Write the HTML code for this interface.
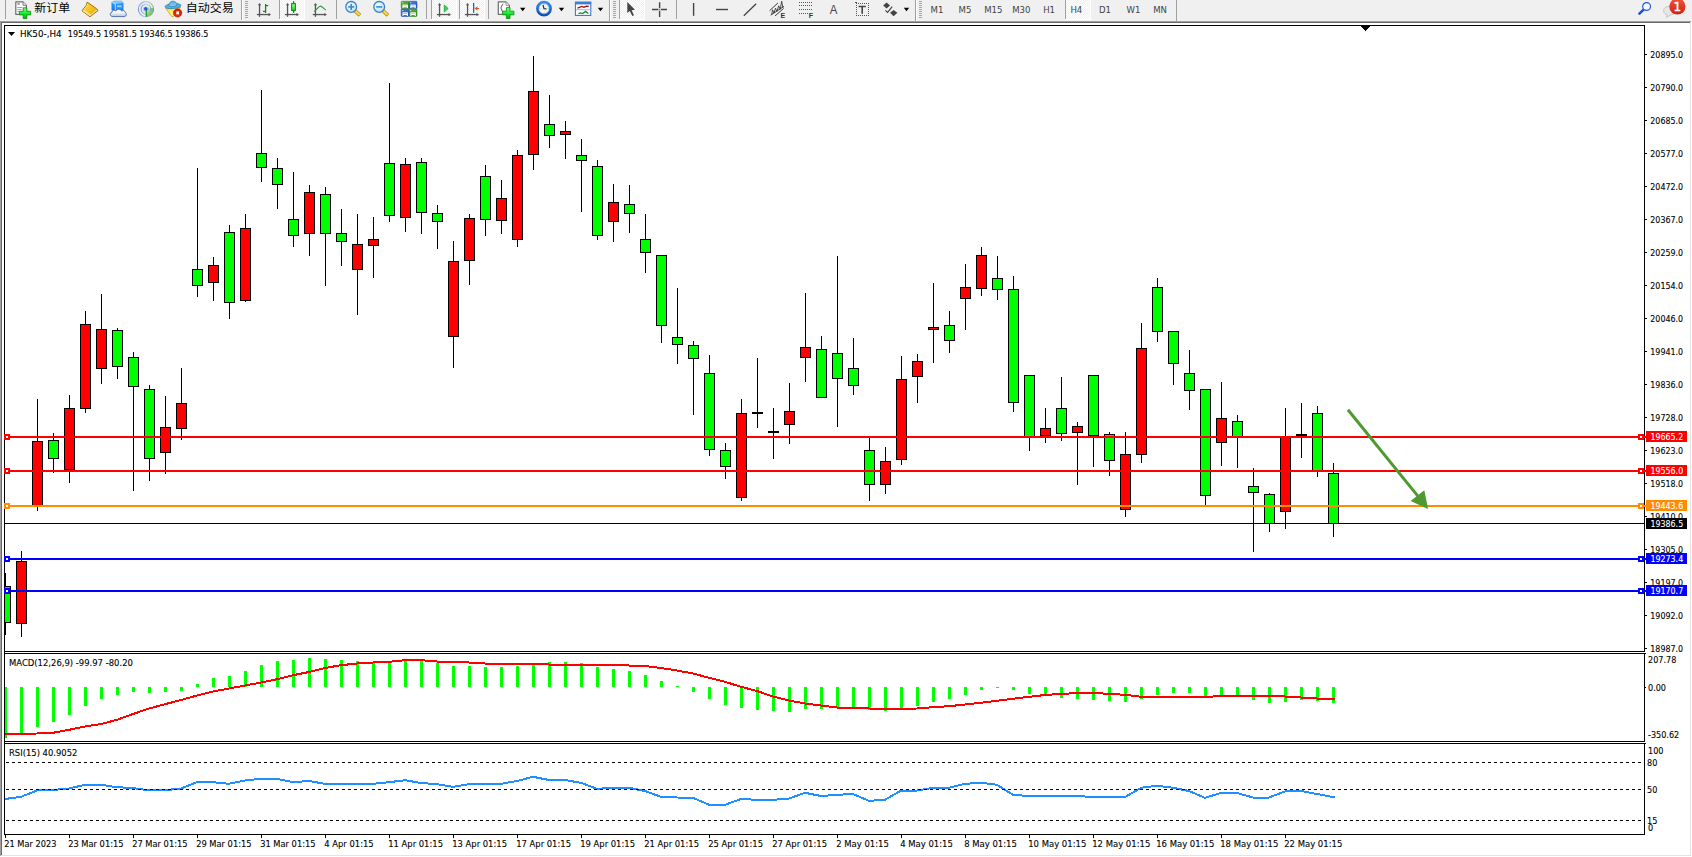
<!DOCTYPE html>
<html lang="zh"><head><meta charset="utf-8"><title>HK50-,H4</title>
<style>
html,body{margin:0;padding:0;background:#fff;overflow:hidden}
svg{display:block}
text{font-family:"DejaVu Sans Condensed","Liberation Sans",sans-serif;font-size:9px;fill:#000;stroke:#000;stroke-width:.1px}
.cj{font-family:"Liberation Sans","Noto Sans CJK SC","WenQuanYi Zen Hei",sans-serif;font-size:12px;fill:#000;stroke:none}
.tf{font-family:"DejaVu Sans Condensed","Liberation Sans",sans-serif;font-size:9.5px;fill:#444;stroke:none}
.w{fill:#fff;stroke:#fff}
</style></head><body>

<svg width="1692" height="857" viewBox="0 0 1692 857">

<g shape-rendering="crispEdges">
<rect x="0" y="0" width="1692" height="857" fill="#fff"/>
<rect x="0" y="0" width="1692" height="21" fill="#f0f0f0"/>
<rect x="0" y="21" width="1692" height="1" fill="#a0a0a0"/>
<rect x="0" y="22" width="1692" height="1" fill="#696969"/>
<rect x="0" y="21" width="1" height="836" fill="#a0a0a0"/>
<rect x="1" y="22" width="1" height="835" fill="#696969"/>
<rect x="1" y="855" width="1691" height="1" fill="#e3e3e3"/>
<rect x="1690" y="22" width="1" height="834" fill="#e3e3e3"/>
<rect x="0" y="856" width="1692" height="1" fill="#fff"/>
<rect x="1691" y="21" width="1" height="836" fill="#fff"/>
<rect x="4" y="25" width="1641" height="1" fill="#000"/>
<rect x="4" y="25" width="1" height="810" fill="#000"/>
<rect x="1644" y="25" width="1" height="810" fill="#000"/>
<rect x="4" y="651" width="1641" height="1" fill="#000"/>
<rect x="4" y="653" width="1641" height="1" fill="#000"/>
<rect x="4" y="741" width="1641" height="1" fill="#000"/>
<rect x="4" y="743" width="1641" height="1" fill="#000"/>
<rect x="4" y="834" width="1641" height="1" fill="#000"/>
<rect x="1645" y="54" width="2" height="1" fill="#000"/>
<rect x="1645" y="87" width="2" height="1" fill="#000"/>
<rect x="1645" y="120" width="2" height="1" fill="#000"/>
<rect x="1645" y="153" width="2" height="1" fill="#000"/>
<rect x="1645" y="186" width="2" height="1" fill="#000"/>
<rect x="1645" y="219" width="2" height="1" fill="#000"/>
<rect x="1645" y="252" width="2" height="1" fill="#000"/>
<rect x="1645" y="285" width="2" height="1" fill="#000"/>
<rect x="1645" y="318" width="2" height="1" fill="#000"/>
<rect x="1645" y="351" width="2" height="1" fill="#000"/>
<rect x="1645" y="384" width="2" height="1" fill="#000"/>
<rect x="1645" y="417" width="2" height="1" fill="#000"/>
<rect x="1645" y="450" width="2" height="1" fill="#000"/>
<rect x="1645" y="483" width="2" height="1" fill="#000"/>
<rect x="1645" y="516" width="2" height="1" fill="#000"/>
<rect x="1645" y="549" width="2" height="1" fill="#000"/>
<rect x="1645" y="582" width="2" height="1" fill="#000"/>
<rect x="1645" y="615" width="2" height="1" fill="#000"/>
<rect x="1645" y="648" width="2" height="1" fill="#000"/>
<rect x="1645" y="687" width="1" height="1" fill="#000"/>
<rect x="1644" y="652" width="1" height="1" fill="#fff"/>
<rect x="1644" y="742" width="1" height="1" fill="#fff"/>
<rect x="1645" y="653" width="1" height="1" fill="#000"/>
<rect x="1645" y="743" width="1" height="1" fill="#000"/>
<rect x="5" y="835" width="1" height="3" fill="#000"/>
<rect x="69" y="835" width="1" height="3" fill="#000"/>
<rect x="133" y="835" width="1" height="3" fill="#000"/>
<rect x="197" y="835" width="1" height="3" fill="#000"/>
<rect x="261" y="835" width="1" height="3" fill="#000"/>
<rect x="325" y="835" width="1" height="3" fill="#000"/>
<rect x="389" y="835" width="1" height="3" fill="#000"/>
<rect x="453" y="835" width="1" height="3" fill="#000"/>
<rect x="517" y="835" width="1" height="3" fill="#000"/>
<rect x="581" y="835" width="1" height="3" fill="#000"/>
<rect x="645" y="835" width="1" height="3" fill="#000"/>
<rect x="709" y="835" width="1" height="3" fill="#000"/>
<rect x="773" y="835" width="1" height="3" fill="#000"/>
<rect x="837" y="835" width="1" height="3" fill="#000"/>
<rect x="901" y="835" width="1" height="3" fill="#000"/>
<rect x="965" y="835" width="1" height="3" fill="#000"/>
<rect x="1029" y="835" width="1" height="3" fill="#000"/>
<rect x="1093" y="835" width="1" height="3" fill="#000"/>
<rect x="1157" y="835" width="1" height="3" fill="#000"/>
<rect x="1221" y="835" width="1" height="3" fill="#000"/>
<rect x="1285" y="835" width="1" height="3" fill="#000"/>
</g>

<g shape-rendering="crispEdges">
<rect x="5" y="573" width="1" height="62" fill="#000"/>
<rect x="4" y="586" width="7" height="37" fill="#000"/>
<rect x="5" y="587" width="5" height="35" fill="#00ff00"/>
<rect x="21" y="551" width="1" height="86" fill="#000"/>
<rect x="16" y="561" width="11" height="63" fill="#000"/>
<rect x="17" y="562" width="9" height="61" fill="#ff0000"/>
<rect x="37" y="399" width="1" height="112" fill="#000"/>
<rect x="32" y="441" width="11" height="65" fill="#000"/>
<rect x="33" y="442" width="9" height="63" fill="#ff0000"/>
<rect x="53" y="433" width="1" height="40" fill="#000"/>
<rect x="48" y="440" width="11" height="19" fill="#000"/>
<rect x="49" y="441" width="9" height="17" fill="#00ff00"/>
<rect x="69" y="395" width="1" height="88" fill="#000"/>
<rect x="64" y="408" width="11" height="62" fill="#000"/>
<rect x="65" y="409" width="9" height="60" fill="#ff0000"/>
<rect x="85" y="311" width="1" height="102" fill="#000"/>
<rect x="80" y="324" width="11" height="85" fill="#000"/>
<rect x="81" y="325" width="9" height="83" fill="#ff0000"/>
<rect x="101" y="294" width="1" height="90" fill="#000"/>
<rect x="96" y="329" width="11" height="40" fill="#000"/>
<rect x="97" y="330" width="9" height="38" fill="#ff0000"/>
<rect x="117" y="328" width="1" height="51" fill="#000"/>
<rect x="112" y="330" width="11" height="37" fill="#000"/>
<rect x="113" y="331" width="9" height="35" fill="#00ff00"/>
<rect x="133" y="352" width="1" height="139" fill="#000"/>
<rect x="128" y="357" width="11" height="30" fill="#000"/>
<rect x="129" y="358" width="9" height="28" fill="#00ff00"/>
<rect x="149" y="385" width="1" height="96" fill="#000"/>
<rect x="144" y="389" width="11" height="70" fill="#000"/>
<rect x="145" y="390" width="9" height="68" fill="#00ff00"/>
<rect x="165" y="396" width="1" height="78" fill="#000"/>
<rect x="160" y="427" width="11" height="26" fill="#000"/>
<rect x="161" y="428" width="9" height="24" fill="#ff0000"/>
<rect x="181" y="368" width="1" height="72" fill="#000"/>
<rect x="176" y="403" width="11" height="26" fill="#000"/>
<rect x="177" y="404" width="9" height="24" fill="#ff0000"/>
<rect x="197" y="168" width="1" height="129" fill="#000"/>
<rect x="192" y="269" width="11" height="17" fill="#000"/>
<rect x="193" y="270" width="9" height="15" fill="#00ff00"/>
<rect x="213" y="257" width="1" height="44" fill="#000"/>
<rect x="208" y="265" width="11" height="18" fill="#000"/>
<rect x="209" y="266" width="9" height="16" fill="#ff0000"/>
<rect x="229" y="225" width="1" height="94" fill="#000"/>
<rect x="224" y="232" width="11" height="71" fill="#000"/>
<rect x="225" y="233" width="9" height="69" fill="#00ff00"/>
<rect x="245" y="214" width="1" height="88" fill="#000"/>
<rect x="240" y="228" width="11" height="73" fill="#000"/>
<rect x="241" y="229" width="9" height="71" fill="#ff0000"/>
<rect x="261" y="90" width="1" height="92" fill="#000"/>
<rect x="256" y="153" width="11" height="15" fill="#000"/>
<rect x="257" y="154" width="9" height="13" fill="#00ff00"/>
<rect x="277" y="158" width="1" height="51" fill="#000"/>
<rect x="272" y="168" width="11" height="17" fill="#000"/>
<rect x="273" y="169" width="9" height="15" fill="#00ff00"/>
<rect x="293" y="172" width="1" height="75" fill="#000"/>
<rect x="288" y="219" width="11" height="17" fill="#000"/>
<rect x="289" y="220" width="9" height="15" fill="#00ff00"/>
<rect x="309" y="185" width="1" height="71" fill="#000"/>
<rect x="304" y="192" width="11" height="42" fill="#000"/>
<rect x="305" y="193" width="9" height="40" fill="#ff0000"/>
<rect x="325" y="187" width="1" height="99" fill="#000"/>
<rect x="320" y="194" width="11" height="40" fill="#000"/>
<rect x="321" y="195" width="9" height="38" fill="#00ff00"/>
<rect x="341" y="209" width="1" height="57" fill="#000"/>
<rect x="336" y="233" width="11" height="9" fill="#000"/>
<rect x="337" y="234" width="9" height="7" fill="#00ff00"/>
<rect x="357" y="214" width="1" height="101" fill="#000"/>
<rect x="352" y="244" width="11" height="26" fill="#000"/>
<rect x="353" y="245" width="9" height="24" fill="#ff0000"/>
<rect x="373" y="217" width="1" height="61" fill="#000"/>
<rect x="368" y="239" width="11" height="7" fill="#000"/>
<rect x="369" y="240" width="9" height="5" fill="#ff0000"/>
<rect x="389" y="83" width="1" height="139" fill="#000"/>
<rect x="384" y="163" width="11" height="53" fill="#000"/>
<rect x="385" y="164" width="9" height="51" fill="#00ff00"/>
<rect x="405" y="158" width="1" height="74" fill="#000"/>
<rect x="400" y="164" width="11" height="54" fill="#000"/>
<rect x="401" y="165" width="9" height="52" fill="#ff0000"/>
<rect x="421" y="158" width="1" height="76" fill="#000"/>
<rect x="416" y="162" width="11" height="51" fill="#000"/>
<rect x="417" y="163" width="9" height="49" fill="#00ff00"/>
<rect x="437" y="205" width="1" height="44" fill="#000"/>
<rect x="432" y="213" width="11" height="9" fill="#000"/>
<rect x="433" y="214" width="9" height="7" fill="#00ff00"/>
<rect x="453" y="241" width="1" height="127" fill="#000"/>
<rect x="448" y="261" width="11" height="76" fill="#000"/>
<rect x="449" y="262" width="9" height="74" fill="#ff0000"/>
<rect x="469" y="214" width="1" height="71" fill="#000"/>
<rect x="464" y="218" width="11" height="43" fill="#000"/>
<rect x="465" y="219" width="9" height="41" fill="#ff0000"/>
<rect x="485" y="165" width="1" height="71" fill="#000"/>
<rect x="480" y="176" width="11" height="44" fill="#000"/>
<rect x="481" y="177" width="9" height="42" fill="#00ff00"/>
<rect x="501" y="180" width="1" height="54" fill="#000"/>
<rect x="496" y="198" width="11" height="23" fill="#000"/>
<rect x="497" y="199" width="9" height="21" fill="#ff0000"/>
<rect x="517" y="150" width="1" height="97" fill="#000"/>
<rect x="512" y="155" width="11" height="85" fill="#000"/>
<rect x="513" y="156" width="9" height="83" fill="#ff0000"/>
<rect x="533" y="56" width="1" height="114" fill="#000"/>
<rect x="528" y="91" width="11" height="64" fill="#000"/>
<rect x="529" y="92" width="9" height="62" fill="#ff0000"/>
<rect x="549" y="95" width="1" height="53" fill="#000"/>
<rect x="544" y="124" width="11" height="12" fill="#000"/>
<rect x="545" y="125" width="9" height="10" fill="#00ff00"/>
<rect x="565" y="121" width="1" height="38" fill="#000"/>
<rect x="560" y="131" width="11" height="4" fill="#000"/>
<rect x="561" y="132" width="9" height="2" fill="#ff0000"/>
<rect x="581" y="139" width="1" height="73" fill="#000"/>
<rect x="576" y="155" width="11" height="6" fill="#000"/>
<rect x="577" y="156" width="9" height="4" fill="#00ff00"/>
<rect x="597" y="160" width="1" height="80" fill="#000"/>
<rect x="592" y="166" width="11" height="70" fill="#000"/>
<rect x="593" y="167" width="9" height="68" fill="#00ff00"/>
<rect x="613" y="184" width="1" height="58" fill="#000"/>
<rect x="608" y="202" width="11" height="20" fill="#000"/>
<rect x="609" y="203" width="9" height="18" fill="#ff0000"/>
<rect x="629" y="185" width="1" height="48" fill="#000"/>
<rect x="624" y="204" width="11" height="10" fill="#000"/>
<rect x="625" y="205" width="9" height="8" fill="#00ff00"/>
<rect x="645" y="214" width="1" height="59" fill="#000"/>
<rect x="640" y="239" width="11" height="14" fill="#000"/>
<rect x="641" y="240" width="9" height="12" fill="#00ff00"/>
<rect x="661" y="255" width="1" height="88" fill="#000"/>
<rect x="656" y="255" width="11" height="71" fill="#000"/>
<rect x="657" y="256" width="9" height="69" fill="#00ff00"/>
<rect x="677" y="288" width="1" height="76" fill="#000"/>
<rect x="672" y="337" width="11" height="8" fill="#000"/>
<rect x="673" y="338" width="9" height="6" fill="#00ff00"/>
<rect x="693" y="341" width="1" height="74" fill="#000"/>
<rect x="688" y="345" width="11" height="14" fill="#000"/>
<rect x="689" y="346" width="9" height="12" fill="#00ff00"/>
<rect x="709" y="355" width="1" height="101" fill="#000"/>
<rect x="704" y="373" width="11" height="77" fill="#000"/>
<rect x="705" y="374" width="9" height="75" fill="#00ff00"/>
<rect x="725" y="443" width="1" height="36" fill="#000"/>
<rect x="720" y="450" width="11" height="17" fill="#000"/>
<rect x="721" y="451" width="9" height="15" fill="#00ff00"/>
<rect x="741" y="399" width="1" height="102" fill="#000"/>
<rect x="736" y="413" width="11" height="85" fill="#000"/>
<rect x="737" y="414" width="9" height="83" fill="#ff0000"/>
<rect x="757" y="358" width="1" height="70" fill="#000"/>
<rect x="752" y="412" width="11" height="2" fill="#000"/>
<rect x="773" y="408" width="1" height="51" fill="#000"/>
<rect x="768" y="431" width="11" height="2" fill="#000"/>
<rect x="789" y="383" width="1" height="61" fill="#000"/>
<rect x="784" y="411" width="11" height="14" fill="#000"/>
<rect x="785" y="412" width="9" height="12" fill="#ff0000"/>
<rect x="805" y="293" width="1" height="89" fill="#000"/>
<rect x="800" y="347" width="11" height="11" fill="#000"/>
<rect x="801" y="348" width="9" height="9" fill="#ff0000"/>
<rect x="821" y="336" width="1" height="62" fill="#000"/>
<rect x="816" y="349" width="11" height="49" fill="#000"/>
<rect x="817" y="350" width="9" height="47" fill="#00ff00"/>
<rect x="837" y="256" width="1" height="171" fill="#000"/>
<rect x="832" y="353" width="11" height="26" fill="#000"/>
<rect x="833" y="354" width="9" height="24" fill="#00ff00"/>
<rect x="853" y="338" width="1" height="57" fill="#000"/>
<rect x="848" y="368" width="11" height="18" fill="#000"/>
<rect x="849" y="369" width="9" height="16" fill="#00ff00"/>
<rect x="869" y="438" width="1" height="63" fill="#000"/>
<rect x="864" y="450" width="11" height="35" fill="#000"/>
<rect x="865" y="451" width="9" height="33" fill="#00ff00"/>
<rect x="885" y="447" width="1" height="47" fill="#000"/>
<rect x="880" y="461" width="11" height="24" fill="#000"/>
<rect x="881" y="462" width="9" height="22" fill="#ff0000"/>
<rect x="901" y="356" width="1" height="109" fill="#000"/>
<rect x="896" y="379" width="11" height="81" fill="#000"/>
<rect x="897" y="380" width="9" height="79" fill="#ff0000"/>
<rect x="917" y="354" width="1" height="49" fill="#000"/>
<rect x="912" y="361" width="11" height="16" fill="#000"/>
<rect x="913" y="362" width="9" height="14" fill="#ff0000"/>
<rect x="933" y="283" width="1" height="80" fill="#000"/>
<rect x="928" y="327" width="11" height="3" fill="#000"/>
<rect x="929" y="328" width="9" height="1" fill="#ff0000"/>
<rect x="949" y="311" width="1" height="42" fill="#000"/>
<rect x="944" y="325" width="11" height="16" fill="#000"/>
<rect x="945" y="326" width="9" height="14" fill="#00ff00"/>
<rect x="965" y="264" width="1" height="66" fill="#000"/>
<rect x="960" y="287" width="11" height="12" fill="#000"/>
<rect x="961" y="288" width="9" height="10" fill="#ff0000"/>
<rect x="981" y="247" width="1" height="49" fill="#000"/>
<rect x="976" y="255" width="11" height="34" fill="#000"/>
<rect x="977" y="256" width="9" height="32" fill="#ff0000"/>
<rect x="997" y="256" width="1" height="44" fill="#000"/>
<rect x="992" y="278" width="11" height="12" fill="#000"/>
<rect x="993" y="279" width="9" height="10" fill="#00ff00"/>
<rect x="1013" y="276" width="1" height="136" fill="#000"/>
<rect x="1008" y="289" width="11" height="114" fill="#000"/>
<rect x="1009" y="290" width="9" height="112" fill="#00ff00"/>
<rect x="1029" y="375" width="1" height="76" fill="#000"/>
<rect x="1024" y="375" width="11" height="63" fill="#000"/>
<rect x="1025" y="376" width="9" height="61" fill="#00ff00"/>
<rect x="1045" y="408" width="1" height="35" fill="#000"/>
<rect x="1040" y="428" width="11" height="8" fill="#000"/>
<rect x="1041" y="429" width="9" height="6" fill="#ff0000"/>
<rect x="1061" y="377" width="1" height="64" fill="#000"/>
<rect x="1056" y="408" width="11" height="26" fill="#000"/>
<rect x="1057" y="409" width="9" height="24" fill="#00ff00"/>
<rect x="1077" y="422" width="1" height="63" fill="#000"/>
<rect x="1072" y="426" width="11" height="7" fill="#000"/>
<rect x="1073" y="427" width="9" height="5" fill="#ff0000"/>
<rect x="1093" y="375" width="1" height="92" fill="#000"/>
<rect x="1088" y="375" width="11" height="61" fill="#000"/>
<rect x="1089" y="376" width="9" height="59" fill="#00ff00"/>
<rect x="1109" y="432" width="1" height="44" fill="#000"/>
<rect x="1104" y="434" width="11" height="27" fill="#000"/>
<rect x="1105" y="435" width="9" height="25" fill="#00ff00"/>
<rect x="1125" y="432" width="1" height="85" fill="#000"/>
<rect x="1120" y="454" width="11" height="56" fill="#000"/>
<rect x="1121" y="455" width="9" height="54" fill="#ff0000"/>
<rect x="1141" y="323" width="1" height="140" fill="#000"/>
<rect x="1136" y="348" width="11" height="107" fill="#000"/>
<rect x="1137" y="349" width="9" height="105" fill="#ff0000"/>
<rect x="1157" y="278" width="1" height="64" fill="#000"/>
<rect x="1152" y="287" width="11" height="45" fill="#000"/>
<rect x="1153" y="288" width="9" height="43" fill="#00ff00"/>
<rect x="1173" y="331" width="1" height="54" fill="#000"/>
<rect x="1168" y="331" width="11" height="33" fill="#000"/>
<rect x="1169" y="332" width="9" height="31" fill="#00ff00"/>
<rect x="1189" y="350" width="1" height="60" fill="#000"/>
<rect x="1184" y="373" width="11" height="18" fill="#000"/>
<rect x="1185" y="374" width="9" height="16" fill="#00ff00"/>
<rect x="1205" y="389" width="1" height="116" fill="#000"/>
<rect x="1200" y="389" width="11" height="107" fill="#000"/>
<rect x="1201" y="390" width="9" height="105" fill="#00ff00"/>
<rect x="1221" y="382" width="1" height="84" fill="#000"/>
<rect x="1216" y="418" width="11" height="25" fill="#000"/>
<rect x="1217" y="419" width="9" height="23" fill="#ff0000"/>
<rect x="1237" y="415" width="1" height="53" fill="#000"/>
<rect x="1232" y="421" width="11" height="17" fill="#000"/>
<rect x="1233" y="422" width="9" height="15" fill="#00ff00"/>
<rect x="1253" y="468" width="1" height="84" fill="#000"/>
<rect x="1248" y="486" width="11" height="7" fill="#000"/>
<rect x="1249" y="487" width="9" height="5" fill="#00ff00"/>
<rect x="1269" y="493" width="1" height="39" fill="#000"/>
<rect x="1264" y="494" width="11" height="30" fill="#000"/>
<rect x="1265" y="495" width="9" height="28" fill="#00ff00"/>
<rect x="1285" y="408" width="1" height="121" fill="#000"/>
<rect x="1280" y="436" width="11" height="76" fill="#000"/>
<rect x="1281" y="437" width="9" height="74" fill="#ff0000"/>
<rect x="1301" y="403" width="1" height="55" fill="#000"/>
<rect x="1296" y="434" width="11" height="2" fill="#000"/>
<rect x="1317" y="406" width="1" height="71" fill="#000"/>
<rect x="1312" y="413" width="11" height="59" fill="#000"/>
<rect x="1313" y="414" width="9" height="57" fill="#00ff00"/>
<rect x="1333" y="463" width="1" height="74" fill="#000"/>
<rect x="1328" y="473" width="11" height="51" fill="#000"/>
<rect x="1329" y="474" width="9" height="49" fill="#00ff00"/>
</g>

<g shape-rendering="crispEdges">
<rect x="5" y="687" width="2" height="51" fill="#00ff00"/>
<rect x="20" y="687" width="3" height="46" fill="#00ff00"/>
<rect x="36" y="687" width="3" height="40" fill="#00ff00"/>
<rect x="52" y="687" width="3" height="35" fill="#00ff00"/>
<rect x="68" y="687" width="3" height="28" fill="#00ff00"/>
<rect x="84" y="687" width="3" height="19" fill="#00ff00"/>
<rect x="100" y="687" width="3" height="12" fill="#00ff00"/>
<rect x="116" y="687" width="3" height="8" fill="#00ff00"/>
<rect x="132" y="687" width="3" height="5" fill="#00ff00"/>
<rect x="148" y="687" width="3" height="6" fill="#00ff00"/>
<rect x="164" y="687" width="3" height="5" fill="#00ff00"/>
<rect x="180" y="687" width="3" height="4" fill="#00ff00"/>
<rect x="196" y="684" width="3" height="3" fill="#00ff00"/>
<rect x="212" y="678" width="3" height="9" fill="#00ff00"/>
<rect x="228" y="676" width="3" height="11" fill="#00ff00"/>
<rect x="244" y="671" width="3" height="16" fill="#00ff00"/>
<rect x="260" y="665" width="3" height="22" fill="#00ff00"/>
<rect x="276" y="661" width="3" height="26" fill="#00ff00"/>
<rect x="292" y="660" width="3" height="27" fill="#00ff00"/>
<rect x="308" y="658" width="3" height="29" fill="#00ff00"/>
<rect x="324" y="659" width="3" height="28" fill="#00ff00"/>
<rect x="340" y="660" width="3" height="27" fill="#00ff00"/>
<rect x="356" y="661" width="3" height="26" fill="#00ff00"/>
<rect x="372" y="662" width="3" height="25" fill="#00ff00"/>
<rect x="388" y="662" width="3" height="25" fill="#00ff00"/>
<rect x="404" y="661" width="3" height="26" fill="#00ff00"/>
<rect x="420" y="661" width="3" height="26" fill="#00ff00"/>
<rect x="436" y="663" width="3" height="24" fill="#00ff00"/>
<rect x="452" y="666" width="3" height="21" fill="#00ff00"/>
<rect x="468" y="666" width="3" height="21" fill="#00ff00"/>
<rect x="484" y="667" width="3" height="20" fill="#00ff00"/>
<rect x="500" y="667" width="3" height="20" fill="#00ff00"/>
<rect x="516" y="666" width="3" height="21" fill="#00ff00"/>
<rect x="532" y="664" width="3" height="23" fill="#00ff00"/>
<rect x="548" y="662" width="3" height="25" fill="#00ff00"/>
<rect x="564" y="662" width="3" height="25" fill="#00ff00"/>
<rect x="580" y="663" width="3" height="24" fill="#00ff00"/>
<rect x="596" y="667" width="3" height="20" fill="#00ff00"/>
<rect x="612" y="669" width="3" height="18" fill="#00ff00"/>
<rect x="628" y="671" width="3" height="16" fill="#00ff00"/>
<rect x="644" y="675" width="3" height="12" fill="#00ff00"/>
<rect x="660" y="681" width="3" height="6" fill="#00ff00"/>
<rect x="676" y="686" width="3" height="1" fill="#00ff00"/>
<rect x="692" y="687" width="3" height="5" fill="#00ff00"/>
<rect x="708" y="687" width="3" height="12" fill="#00ff00"/>
<rect x="724" y="687" width="3" height="18" fill="#00ff00"/>
<rect x="740" y="687" width="3" height="21" fill="#00ff00"/>
<rect x="756" y="687" width="3" height="23" fill="#00ff00"/>
<rect x="772" y="687" width="3" height="24" fill="#00ff00"/>
<rect x="788" y="687" width="3" height="25" fill="#00ff00"/>
<rect x="804" y="687" width="3" height="22" fill="#00ff00"/>
<rect x="820" y="687" width="3" height="22" fill="#00ff00"/>
<rect x="836" y="687" width="3" height="21" fill="#00ff00"/>
<rect x="852" y="687" width="3" height="21" fill="#00ff00"/>
<rect x="868" y="687" width="3" height="23" fill="#00ff00"/>
<rect x="884" y="687" width="3" height="24" fill="#00ff00"/>
<rect x="900" y="687" width="3" height="22" fill="#00ff00"/>
<rect x="916" y="687" width="3" height="19" fill="#00ff00"/>
<rect x="932" y="687" width="3" height="15" fill="#00ff00"/>
<rect x="948" y="687" width="3" height="12" fill="#00ff00"/>
<rect x="964" y="687" width="3" height="8" fill="#00ff00"/>
<rect x="980" y="687" width="3" height="3" fill="#00ff00"/>
<rect x="996" y="687" width="3" height="1" fill="#00ff00"/>
<rect x="1012" y="687" width="3" height="3" fill="#00ff00"/>
<rect x="1028" y="687" width="3" height="7" fill="#00ff00"/>
<rect x="1044" y="687" width="3" height="8" fill="#00ff00"/>
<rect x="1060" y="687" width="3" height="11" fill="#00ff00"/>
<rect x="1076" y="687" width="3" height="12" fill="#00ff00"/>
<rect x="1092" y="687" width="3" height="13" fill="#00ff00"/>
<rect x="1108" y="687" width="3" height="14" fill="#00ff00"/>
<rect x="1124" y="687" width="3" height="15" fill="#00ff00"/>
<rect x="1140" y="687" width="3" height="12" fill="#00ff00"/>
<rect x="1156" y="687" width="3" height="8" fill="#00ff00"/>
<rect x="1172" y="687" width="3" height="6" fill="#00ff00"/>
<rect x="1188" y="687" width="3" height="6" fill="#00ff00"/>
<rect x="1204" y="687" width="3" height="10" fill="#00ff00"/>
<rect x="1220" y="687" width="3" height="9" fill="#00ff00"/>
<rect x="1236" y="687" width="3" height="8" fill="#00ff00"/>
<rect x="1252" y="687" width="3" height="13" fill="#00ff00"/>
<rect x="1268" y="687" width="3" height="16" fill="#00ff00"/>
<rect x="1284" y="687" width="3" height="15" fill="#00ff00"/>
<rect x="1300" y="687" width="3" height="13" fill="#00ff00"/>
<rect x="1316" y="687" width="3" height="14" fill="#00ff00"/>
<rect x="1332" y="687" width="3" height="16" fill="#00ff00"/>
<polyline points="5,734.0 21,733.8 37,733.5 53,732.8 69,729.8 85,726.5 101,724.0 117,719.8 133,714.0 149,708.5 165,704.2 181,700.0 197,695.5 213,691.5 229,688.5 245,685.5 261,682.5 277,679.2 293,675.2 309,672.0 325,668.0 341,665.2 357,663.5 373,662.5 389,661.8 405,660.2 421,660.2 437,661.5 453,662.0 469,662.5 485,663.5 501,663.5 517,663.5 533,664.0 549,664.5 565,664.5 581,664.5 597,664.5 613,665.2 629,665.5 645,666.0 661,668.0 677,670.5 693,673.5 709,677.8 725,681.8 741,686.8 757,691.0 773,696.5 789,700.5 805,703.5 821,705.5 837,707.5 853,707.5 869,708.5 885,708.8 901,708.8 917,708.5 933,707.2 949,706.2 965,704.5 981,702.8 997,700.8 1013,698.8 1029,696.8 1045,695.0 1061,693.8 1077,693.2 1093,693.0 1109,693.8 1125,694.8 1141,696.8 1157,696.8 1173,696.8 1189,696.8 1205,696.8 1221,696.2 1237,696.0 1253,696.0 1269,696.0 1285,696.5 1301,697.5 1317,698.5 1333,699.0 1334.5,699.0" fill="none" stroke="#ff0000" stroke-width="2"/>
<polyline points="5,799.0 21,796.8 37,790.5 53,790.0 69,788.5 85,784.8 101,784.8 117,787.2 133,788.0 149,790.5 165,790.2 181,788.5 197,782.2 213,782.2 229,783.8 245,780.5 261,778.8 277,778.8 293,782.2 309,781.0 325,783.8 341,783.8 357,783.8 373,783.8 389,782.2 405,780.2 421,783.0 437,784.2 453,786.8 469,784.2 485,783.8 501,783.8 517,781.0 533,776.8 549,780.0 565,780.0 581,782.8 597,788.8 613,787.8 629,787.8 645,791.0 661,796.8 677,797.5 693,797.8 709,804.8 725,804.8 741,799.0 757,799.8 773,799.8 789,798.5 805,792.8 821,796.0 837,794.8 853,794.0 869,800.8 885,799.8 901,790.5 917,790.5 933,787.8 949,787.8 965,783.8 981,782.8 997,784.8 1013,794.8 1029,796.0 1045,796.0 1061,796.0 1077,796.0 1093,797.0 1109,797.0 1125,797.0 1141,787.8 1157,785.8 1173,787.8 1189,791.0 1205,797.8 1221,793.0 1237,793.0 1253,797.5 1269,797.5 1285,791.5 1301,791.0 1317,794.0 1333,797.0 1334.5,797.0" fill="none" stroke="#1e90ff" stroke-width="2"/>
<path d="M6 762.5H1643" stroke="#000" stroke-width="1" stroke-dasharray="3 3" fill="none"/>
<path d="M6 789.5H1643" stroke="#000" stroke-width="1" stroke-dasharray="3 3" fill="none"/>
<path d="M6 820.5H1643" stroke="#000" stroke-width="1" stroke-dasharray="3 3" fill="none"/>
</g>

<g shape-rendering="crispEdges">
<rect x="4" y="436" width="1642" height="2" fill="#ff0000"/>
<rect x="4" y="434" width="6" height="6" fill="#ff0000"/>
<rect x="6" y="436" width="2" height="2" fill="#fff"/>
<rect x="1638" y="434" width="6" height="6" fill="#ff0000"/>
<rect x="1640" y="436" width="2" height="2" fill="#fff"/>
<rect x="4" y="470" width="1642" height="2" fill="#ff0000"/>
<rect x="4" y="468" width="6" height="6" fill="#ff0000"/>
<rect x="6" y="470" width="2" height="2" fill="#fff"/>
<rect x="1638" y="468" width="6" height="6" fill="#ff0000"/>
<rect x="1640" y="470" width="2" height="2" fill="#fff"/>
<rect x="4" y="505" width="1642" height="2" fill="#ff8c00"/>
<rect x="4" y="503" width="6" height="6" fill="#ff8c00"/>
<rect x="6" y="505" width="2" height="2" fill="#fff"/>
<rect x="1638" y="503" width="6" height="6" fill="#ff8c00"/>
<rect x="1640" y="505" width="2" height="2" fill="#fff"/>
<rect x="5" y="523" width="1640" height="1" fill="#000"/>
<rect x="4" y="558" width="1642" height="2" fill="#0000ff"/>
<rect x="4" y="556" width="6" height="6" fill="#0000ff"/>
<rect x="6" y="558" width="2" height="2" fill="#fff"/>
<rect x="1638" y="556" width="6" height="6" fill="#0000ff"/>
<rect x="1640" y="558" width="2" height="2" fill="#fff"/>
<rect x="4" y="590" width="1642" height="2" fill="#0000ff"/>
<rect x="4" y="588" width="6" height="6" fill="#0000ff"/>
<rect x="6" y="590" width="2" height="2" fill="#fff"/>
<rect x="1638" y="588" width="6" height="6" fill="#0000ff"/>
<rect x="1640" y="590" width="2" height="2" fill="#fff"/>
</g>

<g><path d="M1347.9 409.8L1418.3 496.6" stroke="#4e9a2e" stroke-width="3" fill="none"/><path d="M1428.1 508.9L1410.6 501L1424.3 490.3Z" fill="#4e9a2e"/></g>

<path d="M1360 26H1370L1365 31Z" fill="#000" shape-rendering="crispEdges"/>
<g>
<text x="1650.3" y="58" textLength="32.8" lengthAdjust="spacingAndGlyphs">20895.0</text>
<text x="1650.3" y="91" textLength="32.8" lengthAdjust="spacingAndGlyphs">20790.0</text>
<text x="1650.3" y="124" textLength="32.8" lengthAdjust="spacingAndGlyphs">20685.0</text>
<text x="1650.3" y="157" textLength="32.8" lengthAdjust="spacingAndGlyphs">20577.0</text>
<text x="1650.3" y="190" textLength="32.8" lengthAdjust="spacingAndGlyphs">20472.0</text>
<text x="1650.3" y="223" textLength="32.8" lengthAdjust="spacingAndGlyphs">20367.0</text>
<text x="1650.3" y="256" textLength="32.8" lengthAdjust="spacingAndGlyphs">20259.0</text>
<text x="1650.3" y="289" textLength="32.8" lengthAdjust="spacingAndGlyphs">20154.0</text>
<text x="1650.3" y="322" textLength="32.8" lengthAdjust="spacingAndGlyphs">20046.0</text>
<text x="1650.3" y="355" textLength="32.8" lengthAdjust="spacingAndGlyphs">19941.0</text>
<text x="1650.3" y="388" textLength="32.8" lengthAdjust="spacingAndGlyphs">19836.0</text>
<text x="1650.3" y="421" textLength="32.8" lengthAdjust="spacingAndGlyphs">19728.0</text>
<text x="1650.3" y="454" textLength="32.8" lengthAdjust="spacingAndGlyphs">19623.0</text>
<text x="1650.3" y="487" textLength="32.8" lengthAdjust="spacingAndGlyphs">19518.0</text>
<text x="1650.3" y="520" textLength="32.8" lengthAdjust="spacingAndGlyphs">19410.0</text>
<text x="1650.3" y="553" textLength="32.8" lengthAdjust="spacingAndGlyphs">19305.0</text>
<text x="1650.3" y="586" textLength="32.8" lengthAdjust="spacingAndGlyphs">19197.0</text>
<text x="1650.3" y="619" textLength="32.8" lengthAdjust="spacingAndGlyphs">19092.0</text>
<text x="1650.3" y="652" textLength="32.8" lengthAdjust="spacingAndGlyphs">18987.0</text>
</g>

<g shape-rendering="crispEdges">
<rect x="1646" y="431" width="41" height="11" fill="#ff0000"/>
<rect x="1646" y="465" width="41" height="11" fill="#ff0000"/>
<rect x="1646" y="500" width="41" height="11" fill="#ff8c00"/>
<rect x="1646" y="518" width="41" height="11" fill="#000"/>
<rect x="1646" y="553" width="41" height="11" fill="#0000ff"/>
<rect x="1646" y="585" width="41" height="11" fill="#0000ff"/>
</g>
<g>
<text class="w" x="1650.4" y="440" textLength="32.8" lengthAdjust="spacingAndGlyphs">19665.2</text>
<text class="w" x="1650.4" y="474" textLength="32.8" lengthAdjust="spacingAndGlyphs">19556.0</text>
<text class="w" x="1650.4" y="509" textLength="32.8" lengthAdjust="spacingAndGlyphs">19443.6</text>
<text class="w" x="1650.4" y="527" textLength="32.8" lengthAdjust="spacingAndGlyphs">19386.5</text>
<text class="w" x="1650.4" y="562" textLength="32.8" lengthAdjust="spacingAndGlyphs">19273.4</text>
<text class="w" x="1650.4" y="594" textLength="32.8" lengthAdjust="spacingAndGlyphs">19170.7</text>
</g>

<g>
<text x="1648" y="663">207.78</text>
<text x="1648" y="691">0.00</text>
<text x="1648" y="738">-350.62</text>
<text x="1648" y="754">100</text>
<text x="1647" y="766">80</text>
<text x="1647" y="793">50</text>
<text x="1647" y="824">15</text>
<text x="1648" y="831">0</text>
</g>

<path d="M8 32H15L11.5 36Z" fill="#000"/>
<text x="20" y="37" textLength="41.6" lengthAdjust="spacingAndGlyphs">HK50-,H4</text>
<text x="67.8" y="37" textLength="140.5" lengthAdjust="spacingAndGlyphs">19549.5 19581.5 19346.5 19386.5</text>
<text x="9" y="666" textLength="123.9" lengthAdjust="spacingAndGlyphs">MACD(12,26,9) -99.97 -80.20</text>
<text x="9" y="756" textLength="68.4" lengthAdjust="spacingAndGlyphs">RSI(15) 40.9052</text>

<g>
<text x="4.2" y="847" textLength="52.3" lengthAdjust="spacingAndGlyphs">21 Mar 2023</text>
<text x="68.2" y="847" textLength="55.3" lengthAdjust="spacingAndGlyphs">23 Mar 01:15</text>
<text x="132.2" y="847" textLength="55.3" lengthAdjust="spacingAndGlyphs">27 Mar 01:15</text>
<text x="196.2" y="847" textLength="55.3" lengthAdjust="spacingAndGlyphs">29 Mar 01:15</text>
<text x="260.2" y="847" textLength="55.3" lengthAdjust="spacingAndGlyphs">31 Mar 01:15</text>
<text x="324.2" y="847" textLength="49.5" lengthAdjust="spacingAndGlyphs">4 Apr 01:15</text>
<text x="388.2" y="847" textLength="54.8" lengthAdjust="spacingAndGlyphs">11 Apr 01:15</text>
<text x="452.2" y="847" textLength="54.8" lengthAdjust="spacingAndGlyphs">13 Apr 01:15</text>
<text x="516.2" y="847" textLength="54.8" lengthAdjust="spacingAndGlyphs">17 Apr 01:15</text>
<text x="580.2" y="847" textLength="54.8" lengthAdjust="spacingAndGlyphs">19 Apr 01:15</text>
<text x="644.2" y="847" textLength="54.8" lengthAdjust="spacingAndGlyphs">21 Apr 01:15</text>
<text x="708.2" y="847" textLength="54.8" lengthAdjust="spacingAndGlyphs">25 Apr 01:15</text>
<text x="772.2" y="847" textLength="54.8" lengthAdjust="spacingAndGlyphs">27 Apr 01:15</text>
<text x="836.2" y="847" textLength="52.7" lengthAdjust="spacingAndGlyphs">2 May 01:15</text>
<text x="900.2" y="847" textLength="52.7" lengthAdjust="spacingAndGlyphs">4 May 01:15</text>
<text x="964.2" y="847" textLength="52.7" lengthAdjust="spacingAndGlyphs">8 May 01:15</text>
<text x="1028.2" y="847" textLength="58.1" lengthAdjust="spacingAndGlyphs">10 May 01:15</text>
<text x="1092.2" y="847" textLength="58.1" lengthAdjust="spacingAndGlyphs">12 May 01:15</text>
<text x="1156.2" y="847" textLength="58.1" lengthAdjust="spacingAndGlyphs">16 May 01:15</text>
<text x="1220.2" y="847" textLength="58.1" lengthAdjust="spacingAndGlyphs">18 May 01:15</text>
<text x="1284.2" y="847" textLength="58.1" lengthAdjust="spacingAndGlyphs">22 May 01:15</text>
</g>

<g id="toolbar"><defs>
<linearGradient id="gGreen" x1="0" y1="0" x2="0" y2="1"><stop offset="0" stop-color="#7dff7d"/><stop offset="0.5" stop-color="#14f034"/><stop offset="1" stop-color="#08ac08"/></linearGradient>
<linearGradient id="gGreenL" x1="0" y1="0" x2="0" y2="1"><stop offset="0" stop-color="#8cff9a"/><stop offset="1" stop-color="#1fd62f"/></linearGradient>
<linearGradient id="gGold" x1="0" y1="0" x2="1" y2="1"><stop offset="0" stop-color="#ffe060"/><stop offset="0.45" stop-color="#f7c620"/><stop offset="1" stop-color="#d99a12"/></linearGradient>
<linearGradient id="gBlue" x1="0" y1="0" x2="0" y2="1"><stop offset="0" stop-color="#3aa8ff"/><stop offset="1" stop-color="#0a7af0"/></linearGradient>
<linearGradient id="gBlueD" x1="0" y1="0" x2="0" y2="1"><stop offset="0" stop-color="#2f8cf0"/><stop offset="1" stop-color="#0d4fb4"/></linearGradient>
<linearGradient id="gCloud" x1="0" y1="0" x2="0" y2="1"><stop offset="0" stop-color="#ffffff"/><stop offset="0.45" stop-color="#f2f5fa"/><stop offset="1" stop-color="#b4c2da"/></linearGradient>
<linearGradient id="gRing" x1="0" y1="0" x2="1" y2="0"><stop offset="0" stop-color="#3a68d8"/><stop offset="0.45" stop-color="#8fb0ea"/><stop offset="0.7" stop-color="#8fc0a0"/><stop offset="1" stop-color="#4a8f74"/></linearGradient>
<radialGradient id="gWedge" cx="146" cy="9.2" r="7.7" gradientUnits="userSpaceOnUse"><stop offset="0" stop-color="#d8ecd0" stop-opacity=".5"/><stop offset="1" stop-color="#4fae4f" stop-opacity=".85"/></radialGradient>
<linearGradient id="gYel" x1="0" y1="0" x2="1" y2="1"><stop offset="0" stop-color="#ffd84a"/><stop offset="0.6" stop-color="#fff27a"/><stop offset="1" stop-color="#f0c020"/></linearGradient>
<linearGradient id="gHat" x1="0" y1="0" x2="0" y2="1"><stop offset="0" stop-color="#5ab0e4"/><stop offset="1" stop-color="#8ccaf0"/></linearGradient>
<radialGradient id="gRed2" cx="0.5" cy="0.6" r="0.6"><stop offset="0" stop-color="#ff3a10"/><stop offset="1" stop-color="#c81800"/></radialGradient>
<linearGradient id="gRed" x1="0" y1="0" x2="0" y2="1"><stop offset="0" stop-color="#f0553a"/><stop offset="1" stop-color="#cf1f12"/></linearGradient>
<radialGradient id="gLens" cx="0.4" cy="0.35" r="0.7"><stop offset="0" stop-color="#f2fbff"/><stop offset="1" stop-color="#b4e0f6"/></radialGradient>
<pattern id="chk" width="2" height="2" patternUnits="userSpaceOnUse"><rect width="2" height="2" fill="#f0f0f0"/><rect width="1" height="1" fill="#fff"/><rect x="1" y="1" width="1" height="1" fill="#fff"/></pattern>
<g id="axes" fill="#555"><rect x="-0.6" y="4" width="1.3" height="12.8"/><path d="M0.05 2.9L1.7 5.2H-1.6Z"/><rect x="-2.6" y="13.9" width="13" height="1.3"/><path d="M11.5 14.55L9 12.9V16.2Z"/></g>
<path id="dd" d="M0 0H5.4L2.7 3.4Z" fill="#000"/>
<g id="grip" fill="#a6a6a6" shape-rendering="crispEdges"><rect x="0" y="1" width="3" height="1"/><rect x="0" y="3" width="3" height="1"/><rect x="0" y="5" width="3" height="1"/><rect x="0" y="7" width="3" height="1"/><rect x="0" y="9" width="3" height="1"/><rect x="0" y="11" width="3" height="1"/><rect x="0" y="13" width="3" height="1"/><rect x="0" y="15" width="3" height="1"/><rect x="0" y="17" width="3" height="1"/></g>
</defs>
<rect x="5" y="0" width="1" height="19" fill="#a0a0a0" shape-rendering="crispEdges"/>
<g><path d="M15.8 1.9H23L26.4 5.3V14.4H15.8Z" fill="#fff" stroke="#6e6e6e" stroke-width="1.2" stroke-linejoin="round"/><path d="M23 1.9V5.3H26.4" fill="#f2f2f2" stroke="#6e6e6e" stroke-width=".9"/><rect x="17.3" y="3.2" width="2.5" height="1.4" fill="#8a8a8a"/><rect x="17.3" y="7" width="5.2" height=".9" fill="#9a9a9a"/><rect x="17.3" y="9" width="4.2" height=".9" fill="#9a9a9a"/><rect x="17.3" y="11" width="2.2" height=".9" fill="#9a9a9a"/><path d="M23.2 7.8H26.8V11.3H30.6V14.9H26.8V18.5H23.2V14.9H19.4V11.3H23.2Z" fill="url(#gGreen)" stroke="#078a07" stroke-width=".8"/></g>
<text class="cj" transform="translate(34.2,12.4) scale(1,.93)">新订单</text>
<g><path d="M87.2 2.2L96.8 8.9L98 10.5L90 16.8L82 10.8L86.3 5.2Z" fill="url(#gGold)" stroke="#9a6a08" stroke-width="1" stroke-linejoin="round"/><path d="M82.6 10.9L90 16.2L91.4 15L83.9 9.5Z" fill="#ffe486"/><path d="M90.4 16L97.4 10.5L96.7 9.6L90 14.8Z" fill="#e9dca2" opacity=".9"/><path d="M87.6 3.6L86.9 5.6L84 9.4" stroke="#fff0a0" stroke-width=".7" fill="none"/></g>
<g><path d="M111.8 2.4L114.6 1.1H121.4L123.2 2.8V10.2H111.8Z" fill="url(#gBlue)" stroke="#1478e6" stroke-width=".5"/><path d="M111.8 2.4L114.6 1.1H121.4L123.2 2.8L115.4 4Z" fill="#7cc8ff"/><path d="M112.6 2.6L115.3 4V10" stroke="#eaf6ff" stroke-width=".7" fill="none"/><rect x="117" y="5.6" width="4.6" height="1" fill="#eef8ff"/><rect x="116.2" y="7.6" width="6.4" height=".7" fill="#6fbaff"/><path d="M113 16.6C109.8 16.6 109.2 12.8 112 12.2C111.8 10.2 114.6 9.6 115.8 11C117 8.4 120.8 8.6 121.6 11.2C122.8 10 125.2 10.6 125 12.4C127 13 126.8 16.6 124 16.6Z" fill="url(#gCloud)" stroke="#4a68a8" stroke-width=".9"/></g>
<g fill="none"><path d="M146 9.2L153.4 7.4A7.7 7.7 0 0 1 146 16.9Z" fill="url(#gWedge)" stroke="none"/><circle cx="146" cy="9.2" r="7.6" stroke="url(#gRing)" stroke-width="1.1" opacity=".65"/><circle cx="146" cy="9.2" r="4.9" stroke="url(#gRing)" stroke-width="1.1" opacity=".65"/><circle cx="146" cy="9.2" r="2.7" stroke="url(#gRing)" stroke-width=".8" opacity=".45"/><rect x="145.6" y="9" width="1.5" height="7.8" fill="#1fa81f"/><circle cx="145.8" cy="8.8" r="1.9" fill="#2a58d4"/></g>
<g><path d="M165.6 8.2L180.6 7.4L173.4 16.8L171.8 16.6Z" fill="url(#gYel)" stroke="#c89a10" stroke-width=".7" stroke-linejoin="round"/><g transform="rotate(-5 173 6)"><ellipse cx="173" cy="6.1" rx="8" ry="2.5" fill="#55b0e6" stroke="#1f7fae" stroke-width=".7"/><path d="M168.9 5.6C168.9 -0.4 177.1 -0.4 177.1 5.6C175 7 171 7 168.9 5.6Z" fill="url(#gHat)" stroke="#1f7fae" stroke-width=".6"/></g><circle cx="177.6" cy="12.9" r="4.2" fill="url(#gRed2)" stroke="#a81400" stroke-width=".6"/><rect x="176.3" y="11.4" width="2.7" height="2.9" fill="#fff"/></g>
<text class="cj" transform="translate(185.8,12.4) scale(1,.93)">自动交易</text>
<rect x="241" y="0" width="1" height="20" fill="#a0a0a0" shape-rendering="crispEdges"/>
<rect x="242" y="0" width="1" height="20" fill="#fff"/>
<use href="#grip" x="245" y="0"/>
<use href="#axes" x="259.5" y="0"/>
<path d="M265.6 4V12.9M265.6 5.5H268.2M263 11.4H265.6" stroke="#0a8a0a" stroke-width="1.25" fill="none"/>
<g shape-rendering="crispEdges"><rect x="279" y="0" width="26" height="20" fill="#fff"/><rect x="279" y="0" width="1" height="19" fill="#a0a0a0"/><rect x="280" y="0" width="24" height="19" fill="url(#chk)"/></g>
<use href="#axes" x="287.5" y="0"/>
<rect x="292.9" y="1.2" width="1.4" height="11.7" fill="#0a8f0a"/><rect x="291.6" y="3.6" width="3.8" height="6.8" fill="url(#gGreenL)" stroke="#078a07" stroke-width="1"/>
<use href="#axes" x="315.4" y="0"/>
<path d="M314.2 11.6C317 9.5 318.5 6.2 320.4 6.2C322.2 6.2 324 9.2 325.9 10" stroke="#2f9a3a" stroke-width="1.2" fill="none"/>
<rect x="336" y="0" width="1" height="19" fill="#a0a0a0" shape-rendering="crispEdges"/>
<g><path d="M354.8 10.5L359.9 15.4" stroke="#b8820c" stroke-width="3.6"/><path d="M355.0 10.7L359.5 15" stroke="#ecd04a" stroke-width="2.2"/><path d="M355.6 10.5L359.8 14.5" stroke="#fbf0a0" stroke-width=".8"/><circle cx="351.2" cy="6.9" r="5.4" fill="url(#gLens)" stroke="#3a82cc" stroke-width="1.3"/><rect x="348.2" y="6.1" width="6" height="1.6" fill="#3f8ab4"/><rect x="350.4" y="3.9" width="1.6" height="6" fill="#3f8ab4"/></g>
<g><path d="M382.8 10.5L387.9 15.4" stroke="#b8820c" stroke-width="3.6"/><path d="M383.0 10.7L387.5 15" stroke="#ecd04a" stroke-width="2.2"/><path d="M383.6 10.5L387.8 14.5" stroke="#fbf0a0" stroke-width=".8"/><circle cx="379.2" cy="6.9" r="5.4" fill="url(#gLens)" stroke="#3a82cc" stroke-width="1.3"/><rect x="376.2" y="6.1" width="6" height="1.6" fill="#3f8ab4"/></g>
<g><rect x="401.2" y="1.2" width="7.9" height="7.6" rx=".8" fill="#3a9a1c" stroke="#2a7a10" stroke-width=".5"/><rect x="401.5" y="1.5" width="7.3" height="2.2" rx=".6" fill="#fff" opacity=".12"/><rect x="402.3" y="2.3" width="1" height="1" fill="#e8ffff"/><rect x="402.4" y="4.5" width="5.5" height="3.7" rx=".5" fill="#fff"/><rect x="403.4" y="5.4" width="3.5" height=".9" fill="#9fd890"/><rect x="403.5" y="7.4" width="3.3" height=".9" fill="#3a9a1c"/><rect x="409.1" y="1.2" width="7.9" height="7.6" rx=".8" fill="#1f5fd0" stroke="#1546a8" stroke-width=".5"/><rect x="409.4" y="1.5" width="7.3" height="2.2" rx=".6" fill="#fff" opacity=".12"/><rect x="410.2" y="2.3" width="1" height="1" fill="#e8ffff"/><rect x="410.3" y="4.5" width="5.5" height="3.7" rx=".5" fill="#fff"/><rect x="411.3" y="5.4" width="3.5" height=".9" fill="#9ab4f0"/><rect x="411.4" y="7.4" width="3.3" height=".9" fill="#1f5fd0"/><rect x="401.2" y="8.9" width="7.9" height="7.6" rx=".8" fill="#1f5fd0" stroke="#1546a8" stroke-width=".5"/><rect x="401.5" y="9.2" width="7.3" height="2.2" rx=".6" fill="#fff" opacity=".12"/><rect x="402.3" y="10.0" width="1" height="1" fill="#e8ffff"/><rect x="402.4" y="12.2" width="5.5" height="3.7" rx=".5" fill="#fff"/><rect x="403.4" y="13.1" width="3.5" height=".9" fill="#9ab4f0"/><rect x="403.5" y="15.1" width="3.3" height=".9" fill="#1f5fd0"/><rect x="409.1" y="8.9" width="7.9" height="7.6" rx=".8" fill="#3a9a1c" stroke="#2a7a10" stroke-width=".5"/><rect x="409.4" y="9.2" width="7.3" height="2.2" rx=".6" fill="#fff" opacity=".12"/><rect x="410.2" y="10.0" width="1" height="1" fill="#e8ffff"/><rect x="410.3" y="12.2" width="5.5" height="3.7" rx=".5" fill="#fff"/><rect x="411.3" y="13.1" width="3.5" height=".9" fill="#9fd890"/><rect x="411.4" y="15.1" width="3.3" height=".9" fill="#3a9a1c"/></g>
<rect x="426" y="0" width="1" height="19" fill="#a0a0a0" shape-rendering="crispEdges"/>
<g shape-rendering="crispEdges"><rect x="431" y="0" width="26" height="20" fill="#fff"/><rect x="431" y="0" width="1" height="19" fill="#a0a0a0"/><rect x="432" y="0" width="24" height="19" fill="url(#chk)"/></g>
<use href="#axes" x="439.5" y="0"/>
<path d="M444.3 5L448.2 8.5L444.3 12Z" fill="#3fd45a" stroke="#12a030" stroke-width=".8"/>
<g shape-rendering="crispEdges"><rect x="459" y="0" width="26" height="20" fill="#fff"/><rect x="459" y="0" width="1" height="19" fill="#a0a0a0"/><rect x="460" y="0" width="24" height="19" fill="url(#chk)"/></g>
<use href="#axes" x="467.5" y="0"/>
<rect x="473" y="3" width="1.3" height="9.8" fill="#1c6aa8"/><path d="M474.6 8.5L477.4 6.2V7.9H479V9.1H477.4V10.8Z" fill="#e2571c"/>
<rect x="488" y="0" width="1" height="19" fill="#a0a0a0" shape-rendering="crispEdges"/>
<g><path d="M498.3 1.9H506L509.4 5.3V14.4H498.3Z" fill="#fff" stroke="#6e6e6e" stroke-width="1.2" stroke-linejoin="round"/><path d="M506 2V5.5H509.5" fill="#e8e8e8" stroke="#8a8a8a" stroke-width=".8"/><path d="M503.4 4.2C501.2 4.2 502.2 8 500.6 8C502.2 8 501.2 12 503.4 12" fill="none" stroke="#444" stroke-width=".9"/><path d="M506.4 7.6H510V11.2H513.9V14.8H510V18.5H506.4V14.8H502.6V11.2H506.4Z" fill="url(#gGreen)" stroke="#078a07" stroke-width=".8"/></g>
<use href="#dd" x="520" y="7.8"/>
<g><circle cx="544" cy="8.65" r="6.5" fill="#f4f6f8" stroke="url(#gBlueD)" stroke-width="2.8"/><circle cx="544" cy="8.65" r="5.2" fill="none" stroke="#7fb6f2" stroke-width=".5"/><path d="M543 5L544 8.7L546.6 9" stroke="#2a2a2a" stroke-width="1.2" fill="none"/><path d="M544 3.9V4.7M544 12.6V13.4M539.3 8.65H540.1M547.9 8.65H548.7" stroke="#6a8fb8" stroke-width=".7"/></g>
<use href="#dd" x="558.8" y="7.8"/>
<g><rect x="575.4" y="2.2" width="15.4" height="13.2" fill="#fff" stroke="#2f6fc8" stroke-width="1"/><rect x="575" y="1.8" width="16.2" height="2.6" fill="#3b7fd8"/><rect x="576" y="9.4" width="14.4" height=".8" fill="#7aa6e0"/><path d="M577.4 8.2L579.6 7.4L581.6 6.4L584 7.2L586.6 6.2L588.8 6.4" stroke="#a01800" stroke-width="1.3" fill="none"/><path d="M578.4 13.6L580.6 12.8L582.6 13.6L585.6 11.4L588.4 13.6" stroke="#1c8a2c" stroke-width="1.25" fill="none"/></g>
<use href="#dd" x="597.8" y="7.8"/>
<rect x="609" y="0" width="1" height="21" fill="#a0a0a0" shape-rendering="crispEdges"/>
<rect x="610" y="0" width="1" height="21" fill="#fff"/>
<use href="#grip" x="613" y="0"/>
<g shape-rendering="crispEdges"><rect x="619" y="0" width="26" height="20" fill="#fff"/><rect x="619" y="0" width="1" height="19" fill="#a0a0a0"/><rect x="620" y="0" width="24" height="19" fill="url(#chk)"/></g>
<path d="M627.3 1.9V13.1L629.8 10.9L632.3 16L634 15.2L631.6 10.2L635 9.7Z" fill="#444"/>
<path d="M652 9.5H658.4M660.8 9.5H667M659.6 2.2V8.3M659.6 10.7V17" stroke="#444" stroke-width="1.4" fill="none"/><rect x="659.2" y="9.1" width=".8" height=".8" fill="#444"/>
<rect x="676" y="0" width="1" height="19" fill="#a0a0a0" shape-rendering="crispEdges"/>
<path d="M693.6 3V15.8" stroke="#444" stroke-width="1.4"/>
<path d="M716 9.5H728" stroke="#444" stroke-width="1.4"/>
<path d="M743.8 15.8L756.2 3.8" stroke="#444" stroke-width="1.3"/>
<g stroke="#3c3c3c" fill="none" stroke-width="1"><path d="M769.5 10.8L778 2.9M770.6 15.2L783.9 6.4M775 16L783.6 8.4"/><path d="M771.6 14.8L772.6 9.8L774 13.2L775.5 8.2L777 11.4L778.7 5.8L780.2 9.4L781.7 1.2L782.9 8" stroke-width=".9"/></g>
<text x="780.6" y="17.8" style="font:bold 7px 'Liberation Sans',sans-serif;fill:#333;stroke:none">E</text>
<g fill="#555" shape-rendering="crispEdges"><rect x="799" y="2" width="1" height="1"/><rect x="801" y="2" width="1" height="1"/><rect x="803" y="2" width="1" height="1"/><rect x="805" y="2" width="1" height="1"/><rect x="807" y="2" width="1" height="1"/><rect x="809" y="2" width="1" height="1"/><rect x="811" y="2" width="1" height="1"/><rect x="799" y="5" width="1" height="1"/><rect x="801" y="5" width="1" height="1"/><rect x="803" y="5" width="1" height="1"/><rect x="805" y="5" width="1" height="1"/><rect x="807" y="5" width="1" height="1"/><rect x="809" y="5" width="1" height="1"/><rect x="811" y="5" width="1" height="1"/><rect x="799" y="9" width="1" height="1"/><rect x="801" y="9" width="1" height="1"/><rect x="803" y="9" width="1" height="1"/><rect x="805" y="9" width="1" height="1"/><rect x="807" y="9" width="1" height="1"/><rect x="809" y="9" width="1" height="1"/><rect x="811" y="9" width="1" height="1"/><rect x="799" y="13" width="1" height="1"/><rect x="801" y="13" width="1" height="1"/><rect x="803" y="13" width="1" height="1"/><rect x="805" y="13" width="1" height="1"/><rect x="807" y="13" width="1" height="1"/></g>
<text x="808.8" y="17.8" style="font:bold 7px 'Liberation Sans',sans-serif;fill:#333;stroke:none">F</text>
<text x="829.8" y="13.8" textLength="7.6" lengthAdjust="spacingAndGlyphs" style="font:12.5px 'Liberation Sans',sans-serif;fill:#444;stroke:none">A</text>
<g fill="#555" shape-rendering="crispEdges"><rect x="856" y="3" width="1" height="1"/><rect x="856" y="15" width="1" height="1"/><rect x="858" y="3" width="1" height="1"/><rect x="858" y="15" width="1" height="1"/><rect x="860" y="3" width="1" height="1"/><rect x="860" y="15" width="1" height="1"/><rect x="862" y="3" width="1" height="1"/><rect x="862" y="15" width="1" height="1"/><rect x="864" y="3" width="1" height="1"/><rect x="864" y="15" width="1" height="1"/><rect x="866" y="3" width="1" height="1"/><rect x="866" y="15" width="1" height="1"/><rect x="868" y="3" width="1" height="1"/><rect x="868" y="15" width="1" height="1"/><rect x="856" y="3" width="1" height="1"/><rect x="868" y="3" width="1" height="1"/><rect x="856" y="5" width="1" height="1"/><rect x="868" y="5" width="1" height="1"/><rect x="856" y="7" width="1" height="1"/><rect x="868" y="7" width="1" height="1"/><rect x="856" y="9" width="1" height="1"/><rect x="868" y="9" width="1" height="1"/><rect x="856" y="11" width="1" height="1"/><rect x="868" y="11" width="1" height="1"/><rect x="856" y="13" width="1" height="1"/><rect x="868" y="13" width="1" height="1"/><rect x="856" y="15" width="1" height="1"/><rect x="868" y="15" width="1" height="1"/><rect x="855" y="2" width="2" height="1"/></g>
<path d="M858.6 5.8H865.8V7.2H863V13.8H861.4V7.2H858.6Z" fill="#444"/>
<g fill="#444"><path d="M886.6 2.6L890 5.6L886.6 8.4L883.2 5.6Z"/><path d="M893.6 10L897.4 12.8L893.6 16.2L890 12.8Z"/><path d="M885.4 10.4L887.6 12.4L892.2 6.6" stroke="#444" stroke-width="1.2" fill="none"/></g>
<use href="#dd" x="903.8" y="7.8"/>
<rect x="915" y="0" width="1" height="21" fill="#a0a0a0" shape-rendering="crispEdges"/>
<rect x="916" y="0" width="1" height="21" fill="#fff"/>
<use href="#grip" x="919" y="0"/>
<g shape-rendering="crispEdges"><rect x="1065" y="0" width="26" height="20" fill="#fff"/><rect x="1065" y="0" width="1" height="19" fill="#a0a0a0"/><rect x="1066" y="0" width="24" height="19" fill="url(#chk)"/></g>
<text class="tf" x="930.6" y="12.8">M1</text>
<text class="tf" x="958.6" y="12.8">M5</text>
<text class="tf" x="984.2" y="12.8">M15</text>
<text class="tf" x="1012.2" y="12.8">M30</text>
<text class="tf" x="1043.2" y="12.8">H1</text>
<text class="tf" x="1070.4" y="12.8">H4</text>
<text class="tf" x="1099" y="12.8">D1</text>
<text class="tf" x="1126.6" y="12.8">W1</text>
<text class="tf" x="1153.2" y="12.8">MN</text>
<rect x="1176" y="0" width="1" height="21" fill="#a0a0a0" shape-rendering="crispEdges"/>
<g><path d="M1643.6 9.6L1639.4 13.6" stroke="#1f4fd0" stroke-width="2.6" stroke-linecap="round"/><circle cx="1646.6" cy="6.5" r="3.9" fill="#f4f8ff" stroke="#2358dc" stroke-width="1.2"/></g>
<g><path d="M1666.4 17.4L1667.2 14.8C1661.8 13.4 1662.2 6.4 1669.6 6.2C1677.4 6 1678.2 14 1670.6 15Z" fill="#e6e6e6" stroke="#b8b8b8" stroke-width=".7"/><circle cx="1677.4" cy="6.5" r="8.1" fill="url(#gRed)"/></g>
<text x="1673.6" y="10.8" style="font:12px 'DejaVu Sans','Liberation Sans',sans-serif;fill:#fff;stroke:#fff;stroke-width:.4px">1</text></g>

</svg>
</body></html>
